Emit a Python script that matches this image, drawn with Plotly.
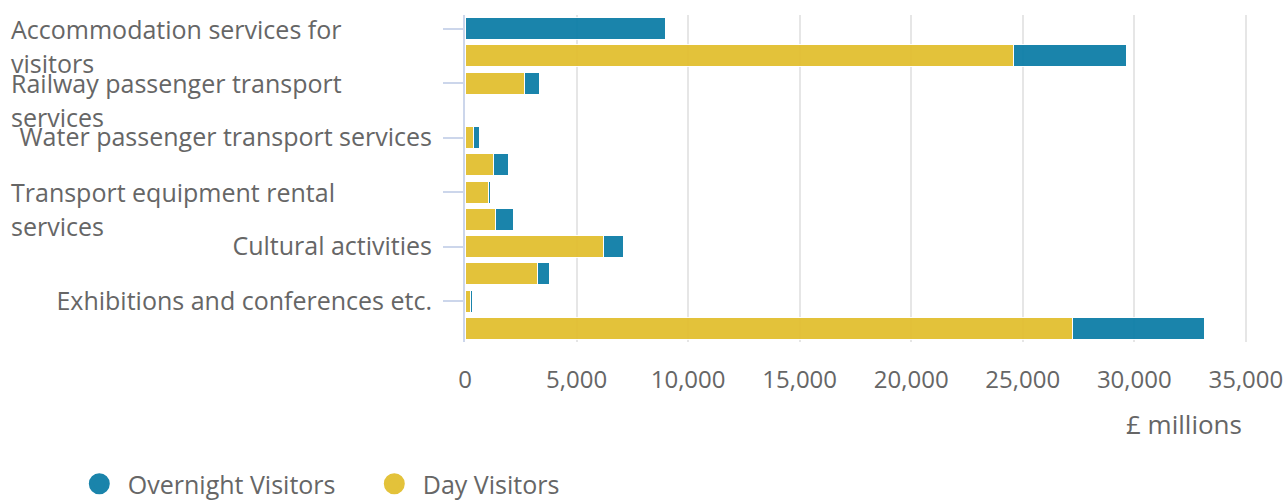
import plotly.graph_objects as go

categories = [
    "Accommodation services for visitors",
    "Food and beverage serving services",
    "Railway passenger transport services",
    "Road passenger transport services",
    "Water passenger transport services",
    "Air passenger transport services",
    "Transport equipment rental services",
    "Travel agencies and other reservation services",
    "Cultural activities",
    "Sports and recreational activities",
    "Exhibitions and conferences etc.",
    "Other consumption products",
]
day_visitors = [0, 24600, 2660, 0, 360, 1255, 1060, 1360, 6190, 3260, 240, 27240]
overnight_visitors = [8990, 5030, 700, 0, 285, 690, 90, 795, 900, 510, 105, 5920]

# labels shown on the axis (every other category)
shown_labels = [
    "Accommodation services for visitors",
    "Railway passenger transport services",
    "Water passenger transport services",
    "Transport equipment rental services",
    "Cultural activities",
    "Exhibitions and conferences etc.",
]
# labels that wrap onto two lines (drawn left-aligned)
wrapped_labels = {
    "Accommodation services for visitors": ["Accommodation services for", "visitors"],
    "Railway passenger transport services": ["Railway passenger transport", "services"],
    "Transport equipment rental services": ["Transport equipment rental", "services"],
}
x_ticks = [0, 5000, 10000, 15000, 20000, 25000, 30000, 35000]

BLUE = "#0e7ea7"
YELLOW = "#e2bf30"
TEXT = "#666666"
FONT = "Open Sans"

# layout geometry (page margin removed below)
FIG_W, FIG_H = 1285, 500
PLOT_L, PLOT_T, PLOT_W, PLOT_H = 465, 15, 791.6, 327
PLOT_R = FIG_W - PLOT_L - PLOT_W
PLOT_B = FIG_H - PLOT_T - PLOT_H


def px_x(screen_x):
    return (screen_x - PLOT_L) / PLOT_W


def px_y(screen_y):
    return (PLOT_T + PLOT_H - screen_y) / PLOT_H


fig = go.Figure()
fig.add_trace(go.Bar(
    y=categories, x=day_visitors, orientation="h", name="Day Visitors",
    marker=dict(color=YELLOW, line=dict(color="white", width=1)),
    opacity=0.95, showlegend=False,
))
fig.add_trace(go.Bar(
    y=categories, x=overnight_visitors, orientation="h", name="Overnight Visitors",
    marker=dict(color=BLUE, line=dict(color="white", width=1)),
    opacity=0.95, showlegend=False,
))
# legend entries with circular symbols
for name, col in [("Overnight Visitors", "#1a84ab"), ("Day Visitors", "#e3c23a")]:
    fig.add_trace(go.Scatter(
        x=[None], y=[None], mode="markers", name=name,
        marker=dict(color=col, size=16, symbol="circle", line=dict(color=col, width=5)),
    ))

ticktext = ["" if lab in wrapped_labels else lab for lab in shown_labels]

annotations = []
for lab, lines in wrapped_labels.items():
    for i, line in enumerate(lines):
        annotations.append(dict(
            text=line, xref="paper", x=px_x(9), xanchor="left",
            yref="y", y=lab, yanchor="middle", yshift=-34 * i,
            showarrow=False, font=dict(family=FONT, size=25, color=TEXT),
        ))
annotations.append(dict(
    text="£ millions", xref="paper", x=px_x(1244), xanchor="right",
    yref="paper", y=px_y(424), yanchor="middle",
    showarrow=False, font=dict(family=FONT, size=26, color=TEXT),
))

fig.update_layout(
    width=FIG_W, height=FIG_H,
    margin=dict(l=PLOT_L, r=PLOT_R, t=PLOT_T, b=PLOT_B, autoexpand=False),
    barmode="stack", bargap=0.2,
    plot_bgcolor="white", paper_bgcolor="white",
    font=dict(family=FONT, size=24, color=TEXT),
    xaxis=dict(
        range=[0, 35500], tickvals=x_ticks, tickformat=",",
        showgrid=True, gridcolor="#e6e6e6", gridwidth=1.5,
        zeroline=False, showline=False, ticks="",
        tickfont=dict(family=FONT, size=24, color=TEXT),
        ticklabelstandoff=21,
    ),
    yaxis=dict(
        categoryorder="array", categoryarray=categories,
        range=[len(categories) - 0.5, -0.5],
        tickmode="array", tickvals=shown_labels, ticktext=ticktext,
        ticks="outside", ticklen=20, tickcolor="#ccd6eb", tickwidth=2,
        showline=True, linecolor="#ccd6eb", linewidth=2,
        showgrid=False, zeroline=False,
        tickfont=dict(family=FONT, size=25, color=TEXT),
        ticklabelstandoff=6,
    ),
    legend=dict(
        orientation="h", x=px_x(71), xanchor="left",
        y=px_y(484), yanchor="middle",
        font=dict(family=FONT, size=25, color=TEXT),
        traceorder="normal", bgcolor="rgba(0,0,0,0)",
        itemwidth=47, entrywidth=233,
    ),
    annotations=annotations,
    showlegend=True,
)

fig.write_html(
    "out.html",
    config={"displayModeBar": False},
    post_script="document.body.style.margin='0';document.body.style.overflow='hidden';",
)
